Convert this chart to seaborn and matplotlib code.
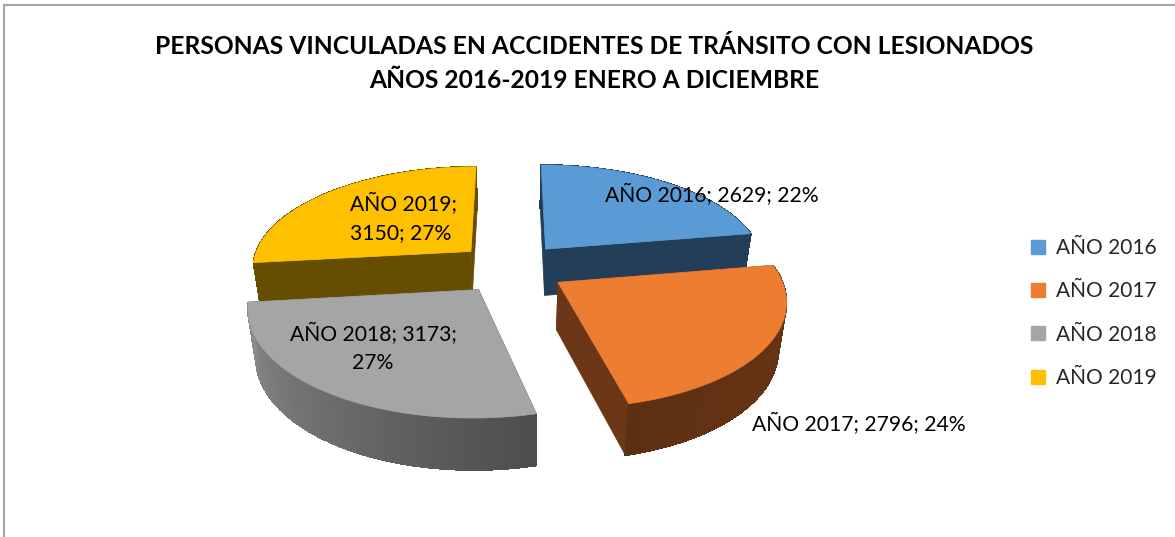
import numpy as np
import matplotlib.pyplot as plt
import seaborn as sns
from matplotlib.patches import Patch, Polygon

# Chart data
categories = ["AÑO 2016", "AÑO 2017", "AÑO 2018", "AÑO 2019"]
values = [2629, 2796, 3173, 3150]
title_lines = [
    "PERSONAS VINCULADAS EN ACCIDENTES DE TRÁNSITO CON LESIONADOS",
    "AÑOS 2016-2019 ENERO A DICIEMBRE",
]

# Colours
top_colors = sns.color_palette(["#5B9BD5", "#ED7D31", "#A5A5A5", "#FFC000"])
wall_near = ["#233E58", "#6B3716", "#4D4D4D", "#664E00"]
wall_far = ["#233E58", "#5E3012", "#8C8C8C", "#664E00"]
draw_order = [0, 3, 2, 1]

# Fake 3D pie settings (everything in pixels of the figure)
cx, cy = 511, 268
rx, ry = 220, 102
persp = 0.15
explode = 0.25
start_angle = 0
wall_h = 47
wall_shrink = 0.97

sns.set_theme(style="white")
plt.rcParams["font.family"] = ["Lato", "DejaVu Sans"]

fig = plt.figure(figsize=(11.75, 5.37), dpi=100)
ax = fig.add_axes([0, 0, 1, 1])
ax.set_xlim(0, 1175)
ax.set_ylim(537, 0)
ax.axis("off")


def project(px, py, bottom=False):
    s = 1 / (1 + persp * py)
    x = cx + px * rx * s
    y = cy - py * ry * s
    if bottom:
        x = cx + (x - cx) * wall_shrink
        y = y + wall_h * np.sqrt(s)
    return np.column_stack([x, y])


total = sum(values)
angles = start_angle + np.cumsum([0] + values) / total * 360

for i in draw_order:
    a0, a1 = np.radians(angles[i]), np.radians(angles[i + 1])
    mid = (a0 + a1) / 2
    ox, oy = explode * np.sin(mid), explode * np.cos(mid)
    t = np.linspace(a0, a1, 90)
    px = ox + np.sin(t)
    py = oy + np.cos(t)
    rim_top = project(px, py)
    rim_bot = project(px, py, bottom=True)
    apex_top = project(np.array([ox]), np.array([oy]))
    apex_bot = project(np.array([ox]), np.array([oy]), bottom=True)

    # radial faces
    for k in [0, -1]:
        face = np.vstack([apex_top, rim_top[k], rim_bot[k], apex_bot])
        ax.add_patch(Polygon(face, fc=wall_near[i], ec=wall_near[i], lw=0.5))

    # outer wall: whole shape first for a clean edge, then strips for the shading
    near = np.array(sns.color_palette([wall_near[i]])[0])
    far = np.array(sns.color_palette([wall_far[i]])[0])
    ax.add_patch(Polygon(np.vstack([rim_top, rim_bot[::-1]]), fc=(near + far) / 2, lw=0))
    for k in range(len(t) - 1):
        f = k / (len(t) - 2)
        c = near + (far - near) * f
        strip = np.vstack([rim_top[k], rim_top[k + 1], rim_bot[k + 1], rim_bot[k]])
        ax.add_patch(Polygon(strip, fc=c, ec=c, lw=0.6, antialiased=False))

    # top surface
    ax.add_patch(Polygon(np.vstack([apex_top, rim_top]), fc=top_colors[i],
                         ec=top_colors[i], lw=0.5))

# Data labels
pct = [round(v / total * 100) for v in values]
labels = [f"{c}; {v}; {p}%" for c, v, p in zip(categories, values, pct)]
labels[2] = f"{categories[2]}; {values[2]};\n{pct[2]}%"
labels[3] = f"{categories[3]};\n{values[3]}; {pct[3]}%"
label_xy = [(712, 195), (859, 424), (373, 348), (404, 218)]
label_align = ["center", "center", "center", "left"]
for text, (x, y), al in zip(labels, label_xy, label_align):
    ax.text(x, y, text, ha="center", va="center", multialignment=al,
            fontsize=15.2, color="black", linespacing=1.45)

# Title
ax.text(594, 46, title_lines[0], ha="center", va="center", fontsize=17.7,
        fontweight="bold", color="black")
ax.text(594, 81, title_lines[1], ha="center", va="center", fontsize=17.7,
        fontweight="bold", color="black")

# Legend
handles = [Patch(fc=c, ec=c) for c in top_colors]
ax.legend(handles, categories, loc="center left", bbox_to_anchor=(1031 / 1175, 1 - 313 / 537),
          frameon=False, fontsize=15, handlelength=0.67, handleheight=0.67,
          handletextpad=0.53, labelspacing=1.12, borderpad=0, borderaxespad=0)

# Chart frame (top and left edges are the only ones in view)
ax.plot([4, 4, 1175], [537, 5, 5], color="#A6A6A6", lw=1.5, solid_joinstyle="miter")

plt.savefig("out.png", dpi=100)
